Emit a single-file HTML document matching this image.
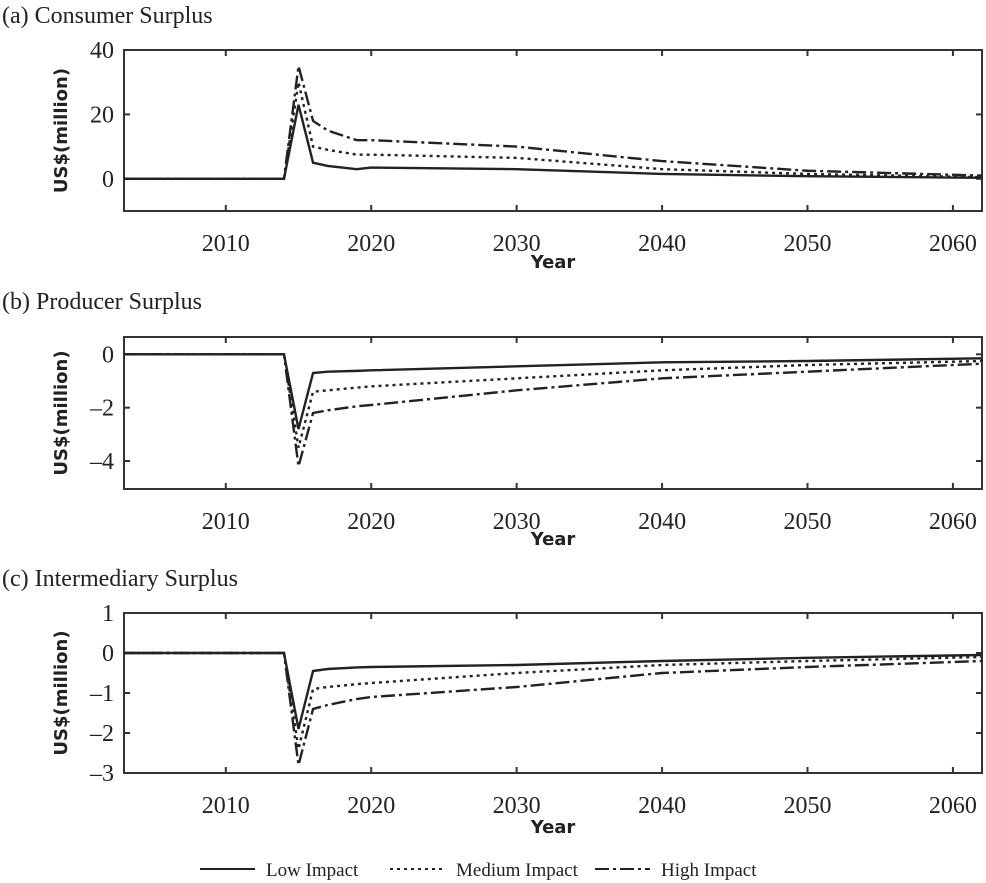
<!DOCTYPE html>
<html><head><meta charset="utf-8"><style>
body{margin:0;background:#fff;width:986px;height:883px;overflow:hidden}
svg{display:block}
.t{font-family:"Liberation Serif",serif;font-size:24px;fill:#222}
.ax{font-family:"DejaVu Sans",sans-serif;font-weight:bold;font-size:18px;fill:#222}
</style></head><body>
<svg id="c" width="986" height="883"></svg>
<script>
const years=[2003,2014,2015,2016,2017,2019,2020,2030,2040,2050,2062];
const consLow=[0,0,23,5,4,3,3.5,3,1.5,0.8,0.3];
const consMed=[0,0,30,10,9,7.5,7.5,6.5,3,1.5,0.5];
const consHigh=[0,0,35,18,15,12,12,10,5.5,2.5,1];
const prodLow=[0,0,-2.8,-0.7,-0.65,-0.62,-0.6,-0.45,-0.3,-0.25,-0.15];
const prodMed=[0,0,-3.5,-1.4,-1.35,-1.25,-1.2,-0.9,-0.6,-0.4,-0.25];
const prodHigh=[0,0,-4.2,-2.2,-2.1,-1.95,-1.9,-1.35,-0.9,-0.65,-0.35];
const intLow=[0,0,-1.9,-0.45,-0.4,-0.36,-0.35,-0.3,-0.2,-0.12,-0.05];
const intMed=[0,0,-2.4,-0.9,-0.85,-0.78,-0.75,-0.5,-0.3,-0.2,-0.1];
const intHigh=[0,0,-2.8,-1.4,-1.3,-1.15,-1.1,-0.85,-0.5,-0.35,-0.2];
const xTicks=[2010,2020,2030,2040,2050,2060];
const NS='http://www.w3.org/2000/svg';
const svg=document.getElementById('c');
function mk(tag,attrs,parent){const e=document.createElementNS(NS,tag);for(const k in attrs)e.setAttribute(k,attrs[k]);(parent||svg).appendChild(e);return e;}
const X0=124,X1=982,XMIN=2003,XMAX=2062;
const xs=v=>X0+(v-XMIN)/(XMAX-XMIN)*(X1-X0);
const dashes={low:'',med:'3,4',high:'14,4,3,4'};
function panel(key,title,top,bottom,ymin,ymax,yticks,series,titleY,tickY,yearY){
  const g=mk('g',{});
  
  
  const ys=v=>bottom-(v-ymin)/(ymax-ymin)*(bottom-top);
  const tt=mk('text',{x:2,y:titleY,class:'t'},g);tt.textContent=title;
  
  
  const fr=mk('rect',{x:X0,y:top,width:X1-X0,height:bottom-top,fill:'none',stroke:'#333','stroke-width':2},g);
  
  
  xTicks.forEach(t=>{const x=xs(t);
    mk('line',{x1:x,x2:x,y1:top,y2:top+6,stroke:'#333','stroke-width':2},g);
    mk('line',{x1:x,x2:x,y1:bottom,y2:bottom-6,stroke:'#333','stroke-width':2},g);
    const l=mk('text',{x:x,y:tickY,'text-anchor':'middle',class:'t'},g);l.textContent=t;
    
    });
  yticks.forEach(t=>{const y=ys(t);
    mk('line',{x1:X0,x2:X0+6,y1:y,y2:y,stroke:'#333','stroke-width':2},g);
    mk('line',{x1:X1,x2:X1-6,y1:y,y2:y,stroke:'#333','stroke-width':2},g);
    const l=mk('text',{x:X0-10,y:y+8,'text-anchor':'end',class:'t'},g);l.textContent=String(t).replace('-','\u2013');
    
    });
  const yl=mk('text',{x:0,y:0,'text-anchor':'middle',class:'ax',transform:`translate(${X0-57},${(top+bottom)/2}) rotate(-90)`},g);
  yl.textContent='US$(million)';
  
  
  const xl=mk('text',{x:(X0+X1)/2,y:yearY,'text-anchor':'middle',class:'ax'},g);xl.textContent='Year';
  
  
  series.forEach(([name,vals])=>{
    const p=mk('polyline',{points:years.map((yr,i)=>xs(yr)+','+ys(vals[i])).join(' '),fill:'none',stroke:'#222','stroke-width':2.4,'stroke-dasharray':dashes[name]},g);
    
    
  });
}
panel('consumer','(a) Consumer Surplus',50,211,-10,40,[0,20,40],[['low',consLow],['med',consMed],['high',consHigh]],23,251,268);
panel('producer','(b) Producer Surplus',337,489,-5.05,0.65,[-4,-2,0],[['low',prodLow],['med',prodMed],['high',prodHigh]],309,529,545);
panel('intermediary','(c) Intermediary Surplus',613,773,-3,1,[-3,-2,-1,0,1],[['low',intLow],['med',intMed],['high',intHigh]],586,813,833);
const lg=mk('g',{});


[['low','Low Impact',200],['med','Medium Impact',390],['high','High Impact',595]].forEach(([k,lab,x])=>{
  const e=mk('g',{},lg);
  
  
  mk('line',{x1:x,x2:x+55,y1:869,y2:869,stroke:'#222','stroke-width':2,'stroke-dasharray':dashes[k]},e);
  const t=mk('text',{x:x+66,y:876,class:'t'},e);t.style.fontSize='19px';t.textContent=lab;
});
</script>
</body></html>
